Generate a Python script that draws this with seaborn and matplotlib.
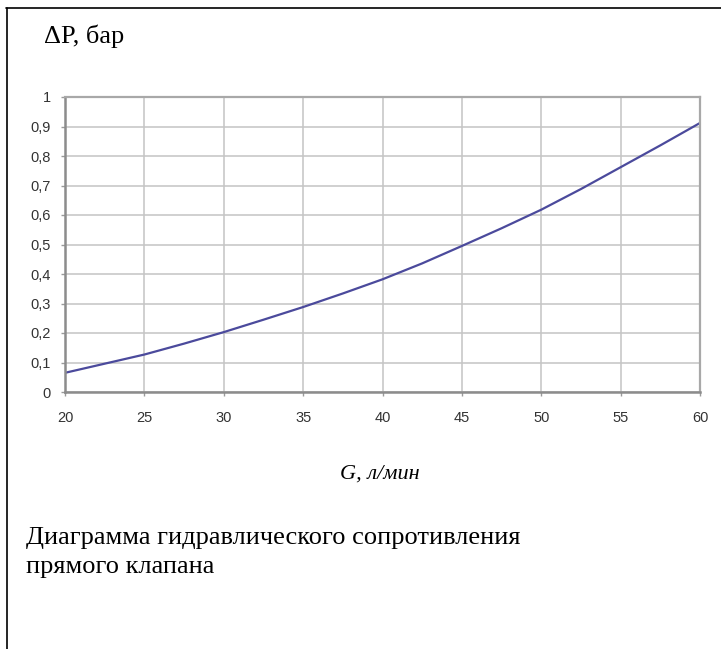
import matplotlib
matplotlib.use("Agg")
import matplotlib.pyplot as plt
from matplotlib.lines import Line2D
import seaborn as sns
import pandas as pd

# Data
flow = [20, 22.5, 25, 27.5, 30, 32.5, 35, 37.5, 40, 42.5, 45, 47.5, 50, 52.5, 55, 57.5, 60]  # G, л/мин
dp = [0.065, 0.096, 0.127, 0.164, 0.203, 0.245, 0.288, 0.334, 0.382, 0.436, 0.495, 0.555,
      0.618, 0.688, 0.762, 0.836, 0.912]  # ΔP, бар
x_ticks = [20, 25, 30, 35, 40, 45, 50, 55, 60]
y_ticks = [0, 0.1, 0.2, 0.3, 0.4, 0.5, 0.6, 0.7, 0.8, 0.9, 1.0]
y_tick_labels = ["0", "0,1", "0,2", "0,3", "0,4", "0,5", "0,6", "0,7", "0,8", "0,9", "1"]

sns.set_theme(style="white")
plt.rcParams['font.family'] = ['Liberation Sans', 'DejaVu Sans']

W, H = 721, 649
fig = plt.figure(figsize=(W / 100, H / 100), dpi=100)
fig.patch.set_facecolor("white")

left, right, top, bottom = 65, 700, 97, 392
ax = fig.add_axes([left / W, 1 - bottom / H, (right - left) / W, (bottom - top) / H])

df = pd.DataFrame({"G": flow, "dP": dp})
sns.lineplot(data=df, x="G", y="dP", ax=ax, color="#4b4a9c", linewidth=1.6)

ax.set_xlim(20, 60)
ax.set_ylim(0, 1)
ax.set_xticks(x_ticks)
ax.set_xticklabels([str(v) for v in x_ticks])
ax.set_yticks(y_ticks)
ax.set_yticklabels(y_tick_labels)
ax.set_xlabel("")
ax.set_ylabel("")
ax.grid(True, color="#c4c4c4", linewidth=1.1)
ax.set_axisbelow(True)
for side in ["top", "right"]:
    ax.spines[side].set_color("#a8a8a8")
    ax.spines[side].set_linewidth(1.6)
for side in ["left", "bottom"]:
    ax.spines[side].set_color("#8c8c8c")
    ax.spines[side].set_linewidth(1.8)
ax.tick_params(axis="both", which="major", length=3, width=1, color="#9a9a9a",
               labelsize=10.5, labelcolor="#333333", direction="out")
ax.tick_params(axis="x", pad=11)
ax.tick_params(axis="y", pad=7)
ax.xaxis.set_ticks_position("bottom")
ax.yaxis.set_ticks_position("left")

serif = ['Liberation Serif', 'DejaVu Serif']
fig.text(44 / W, 1 - 43 / H, "ΔP, бар", family=serif, fontsize=19,
         ha="left", va="baseline", color="black")
fig.text(380 / W, 1 - 479 / H, "G, л/мин", family=serif, fontsize=16,
         style="italic", ha="center", va="baseline", color="black")
fig.text(26 / W, 1 - 544 / H, "Диаграмма гидравлического сопротивления",
         family=serif, fontsize=19, ha="left", va="baseline", color="black")
fig.text(26 / W, 1 - 573 / H, "прямого клапана",
         family=serif, fontsize=19, ha="left", va="baseline", color="black")

# Frame lines (left and top)
fig.add_artist(Line2D([6.5 / W, 6.5 / W], [0, 1 - 8 / H], transform=fig.transFigure,
                      color="black", linewidth=1.2))
fig.add_artist(Line2D([6 / W, 1], [1 - 8 / H, 1 - 8 / H], transform=fig.transFigure,
                      color="black", linewidth=1.2))

fig.savefig("out.png", dpi=100, facecolor="white")
